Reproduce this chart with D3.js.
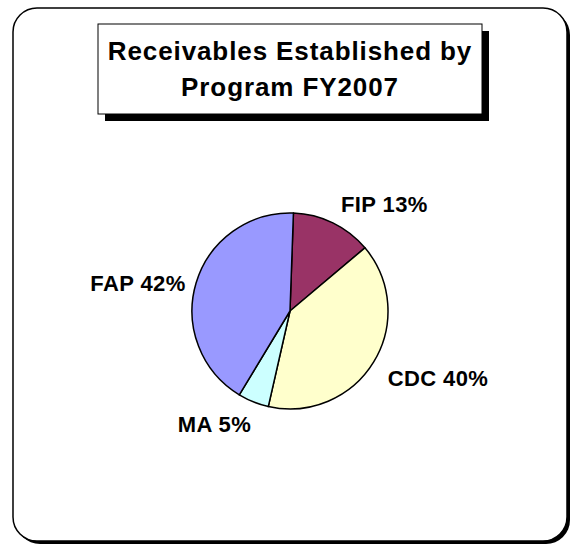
<!DOCTYPE html>
<html>
<head>
<meta charset="utf-8">
<script src="https://cdn.jsdelivr.net/npm/d3@7"></script>
<style>
  body { margin: 0; background: #fff; }
  text { font-family: "Liberation Sans", Arial, sans-serif; font-weight: bold; }
</style>
</head>
<body>
<div id="chart"></div>
<script>
// data
const programs = ["FIP", "CDC", "MA", "FAP"];
const shares = [13.3, 39.7, 5.1, 41.9];
const colors = ["#993366", "#FFFFCC", "#CCFFFF", "#9999FF"];
const titleLines = ["Receivables Established by", "Program FY2007"];

const width = 570, height = 544;

const svg = d3.select("#chart").append("svg")
    .attr("width", width)
    .attr("height", height);

// outer frame with shadow
const frame = { x: 13, y: 8, w: 554, h: 533, r: 24 };
svg.append("rect")
    .attr("x", frame.x + 3).attr("y", frame.y + 3)
    .attr("width", frame.w).attr("height", frame.h)
    .attr("rx", frame.r).attr("fill", "#000");
svg.append("rect")
    .attr("x", frame.x).attr("y", frame.y)
    .attr("width", frame.w).attr("height", frame.h)
    .attr("rx", frame.r)
    .attr("fill", "#fff").attr("stroke", "#000").attr("stroke-width", 1.5);

// title box with shadow
const tb = { x: 98, y: 24, w: 384, h: 90 };
svg.append("rect")
    .attr("x", tb.x + 7).attr("y", tb.y + 7)
    .attr("width", tb.w).attr("height", tb.h)
    .attr("fill", "#000");
svg.append("rect")
    .attr("x", tb.x).attr("y", tb.y)
    .attr("width", tb.w).attr("height", tb.h)
    .attr("fill", "#fff").attr("stroke", "#000").attr("stroke-width", 1);

svg.append("g").selectAll("text")
    .data(titleLines)
    .enter().append("text")
    .attr("x", tb.x + tb.w / 2)
    .attr("y", (d, i) => 60 + i * 36)
    .attr("text-anchor", "middle")
    .attr("font-size", 26)
    .attr("letter-spacing", 0.9)
    .attr("fill", "#000")
    .text(d => d);

// pie
const cx = 290, cy = 311, radius = 98;
const data = programs.map((p, i) => ({ name: p, value: shares[i], color: colors[i] }));

const pie = d3.pie()
    .sort(null)
    .value(d => d.value)
    .startAngle(2 * Math.PI / 180)
    .endAngle(2 * Math.PI / 180 + 2 * Math.PI);

const arc = d3.arc().innerRadius(0).outerRadius(radius);

const g = svg.append("g").attr("transform", "translate(" + cx + "," + cy + ")");

const arcs = pie(data);

g.selectAll(".slice")
    .data(arcs)
    .enter().append("path")
    .attr("class", "slice")
    .attr("d", arc)
    .attr("fill", d => d.data.color)
    .attr("stroke", "#000")
    .attr("stroke-width", 1.5)
    .attr("stroke-linejoin", "round");

// labels: nearest corner of the label sits just outside the rim
const pct = d3.format(".0f");
const capH = 17;
g.selectAll(".label")
    .data(arcs)
    .enter().append("text")
    .attr("class", "label")
    .each(function(d) {
        const a = (d.startAngle + d.endAngle) / 2;
        const lr = radius + 14;
        const px = Math.sin(a) * lr;
        const py = -Math.cos(a) * lr;
        const c = Math.cos(a);
        d3.select(this)
            .attr("x", Math.sin(a) >= 0 ? px + 2 : px + 3)
            .attr("y", c >= 0 ? py + capH * (1 - c) : py + capH)
            .attr("text-anchor", Math.sin(a) >= 0 ? "start" : "end");
    })
    .attr("font-size", 22)
    .attr("letter-spacing", 0.4)
    .attr("fill", "#000")
    .text(d => d.data.name + " " + pct(d.data.value) + "%");
</script>
</body>
</html>
